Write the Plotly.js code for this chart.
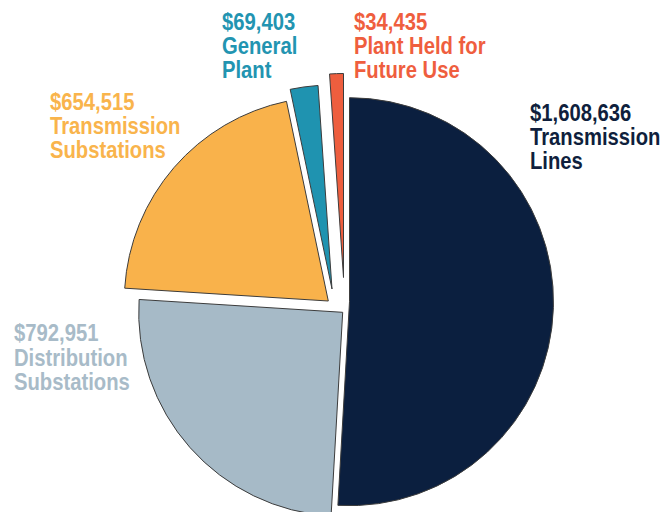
<!DOCTYPE html>
<html>
<head>
<meta charset="utf-8">
<script src="https://cdn.plot.ly/plotly-3.0.1.min.js"></script>
<style>
  html, body { margin: 0; padding: 0; background: #fff; }
  #wrap { width: 668px; height: 512px; overflow: hidden; position: relative; }
  #chart { width: 668px; height: 530px; }
</style>
</head>
<body>
<div id="wrap"><div id="chart"></div></div>
<script>
// ---- data ----
var categories = ['Transmission Lines', 'Distribution Substations', 'Transmission Substations', 'General Plant', 'Plant Held for Future Use'];
var labelLines = [['Transmission', 'Lines'], ['Distribution', 'Substations'], ['Transmission', 'Substations'], ['General', 'Plant'], ['Plant Held for', 'Future Use']];
var values = [1608636, 792951, 654515, 69403, 34435];

// ---- styles / layout positions ----
var colors = ['#0B1F3F', '#A6BAC7', '#F9B24B', '#1F93B0', '#EE5E3E'];
var textColors = ['#0F1F3D', '#A8BBC8', '#F9B44C', '#2294B1', '#EF5E3E'];
var W = 668, H = 530, R = 204;
// exploded slice apex positions (px)
var apex = [[349.5, 301.7], [342.7, 312.3], [328.3, 301.0], [332.0, 289.0], [343.5, 277.5]];
// label anchor: left x, first baseline (px)
var labelPos = [[531, 121], [15, 341.7], [51, 110], [223.3, 30], [355, 30]];
var CONDENSE = 0.88;           // narrow face emulation
var FS = 23 * CONDENSE;        // actual font size (glyphs stretched vertically afterwards)
var PITCH = 24.4;
var FONT = '"Liberation Sans", Arial, sans-serif';

var total = values.reduce(function (a, b) { return a + b; }, 0);
var traces = [];
var cum = 0;
for (var i = 0; i < values.length; i++) {
  var cx = apex[i][0], cy = apex[i][1];
  traces.push({
    type: 'pie',
    labels: [categories[i], 'rest'],
    values: [values[i], total - values[i]],
    sort: false,
    direction: 'clockwise',
    rotation: 360 * cum / total,
    marker: {
      colors: [colors[i], 'rgba(0,0,0,0)'],
      line: { color: ['#3c3c3c', 'rgba(0,0,0,0)'], width: [1, 0] }
    },
    textinfo: 'none',
    hoverinfo: 'none',
    showlegend: false,
    domain: { x: [(cx - R) / W, (cx + R) / W], y: [1 - (cy + R) / H, 1 - (cy - R) / H] }
  });
  cum += values[i];
}

var annotations = [];
for (var j = 0; j < values.length; j++) {
  var lines = ['$' + values[j].toLocaleString('en-US')].concat(labelLines[j]);
  for (var k = 0; k < lines.length; k++) {
    var base = labelPos[j][1] + k * PITCH;
    var topY = base - 0.905 * FS;
    annotations.push({
      text: '<b>' + lines[k] + '</b>',
      xref: 'paper', yref: 'paper',
      x: (labelPos[j][0] - 1) / W, y: 1 - topY / H,
      xanchor: 'left', yanchor: 'top', align: 'left',
      showarrow: false,
      borderpad: 0, borderwidth: 0,
      font: { family: FONT, size: FS, color: textColors[j] }
    });
  }
}

Plotly.newPlot('chart', traces, {
  width: W, height: H,
  margin: { l: 0, r: 0, t: 0, b: 0 },
  paper_bgcolor: '#ffffff',
  showlegend: false,
  annotations: annotations
}, { staticPlot: true }).then(function (gd) {
  // stretch label glyphs vertically about their baseline (reference uses a tall narrow face)
  var sy = 1 / CONDENSE;
  gd.querySelectorAll('.annotation-text').forEach(function (t) {
    var y = parseFloat(t.getAttribute('y')) || 0;
    var prev = t.getAttribute('transform') || '';
    t.setAttribute('transform', prev + ' translate(0,' + y + ') scale(1,' + sy.toFixed(4) + ') translate(0,' + (-y) + ')');
  });
});
</script>
</body>
</html>
